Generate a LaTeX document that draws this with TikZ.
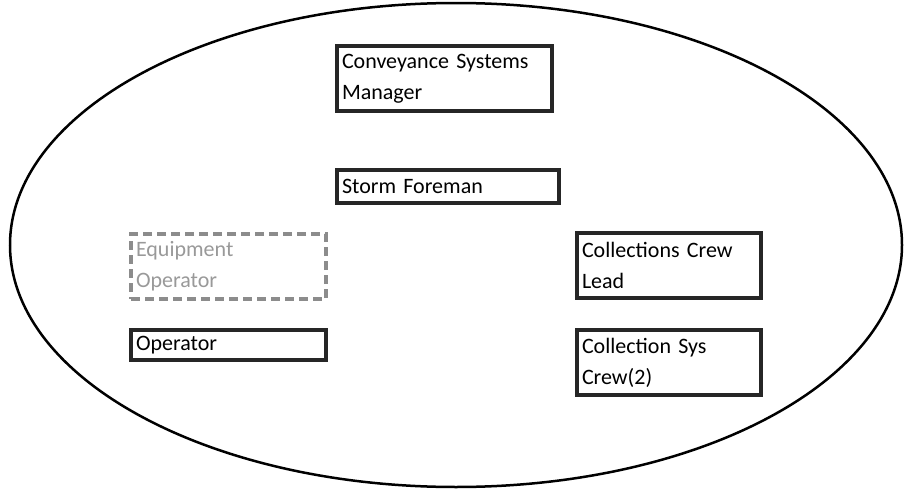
\documentclass[tikz,border=0pt]{standalone}
\usepackage{fontspec}
\setmainfont{Carlito}
\begin{document}
\begin{tikzpicture}[x=1pt, y=-1pt,
	box/.style={draw=black!85, line width=3.5pt, align=left, inner xsep=5pt,
		font=\fontsize{22}{31}\selectfont},
	dashbox/.style={box, draw=black!45, text=black!40, dash pattern=on 9pt off 5pt}]
	\useasboundingbox (0, 0) rectangle (906, 498);
	\draw[line width=2.5pt] (456, 245) ellipse [x radius=446, y radius=242];

	\node[box, minimum width=215pt, minimum height=65pt, text width=205pt] (mgr) at (444.5, 78.5){Conveyance Systems\\Manager};
	\node[box, minimum width=222pt, minimum height=33pt, text width=212pt] (storm) at (448, 186.5){Storm Foreman};

	\node[dashbox, minimum width=195pt, minimum height=65pt, text width=185pt] (equip) at (228.5, 266.5){Equipment\\Operator};
	\node[box, minimum width=195pt, minimum height=30pt, text width=185pt] (oper) at (228.5, 345){Operator};

	\node[box, minimum width=184pt, minimum height=65pt, text width=174pt] (lead) at (669, 265.5){Collections Crew\\Lead};
	\node[box, minimum width=184pt, minimum height=65pt, text width=174pt] (crew) at (669, 362.5){Collection Sys\\Crew(2)};
\end{tikzpicture}
\end{document}
